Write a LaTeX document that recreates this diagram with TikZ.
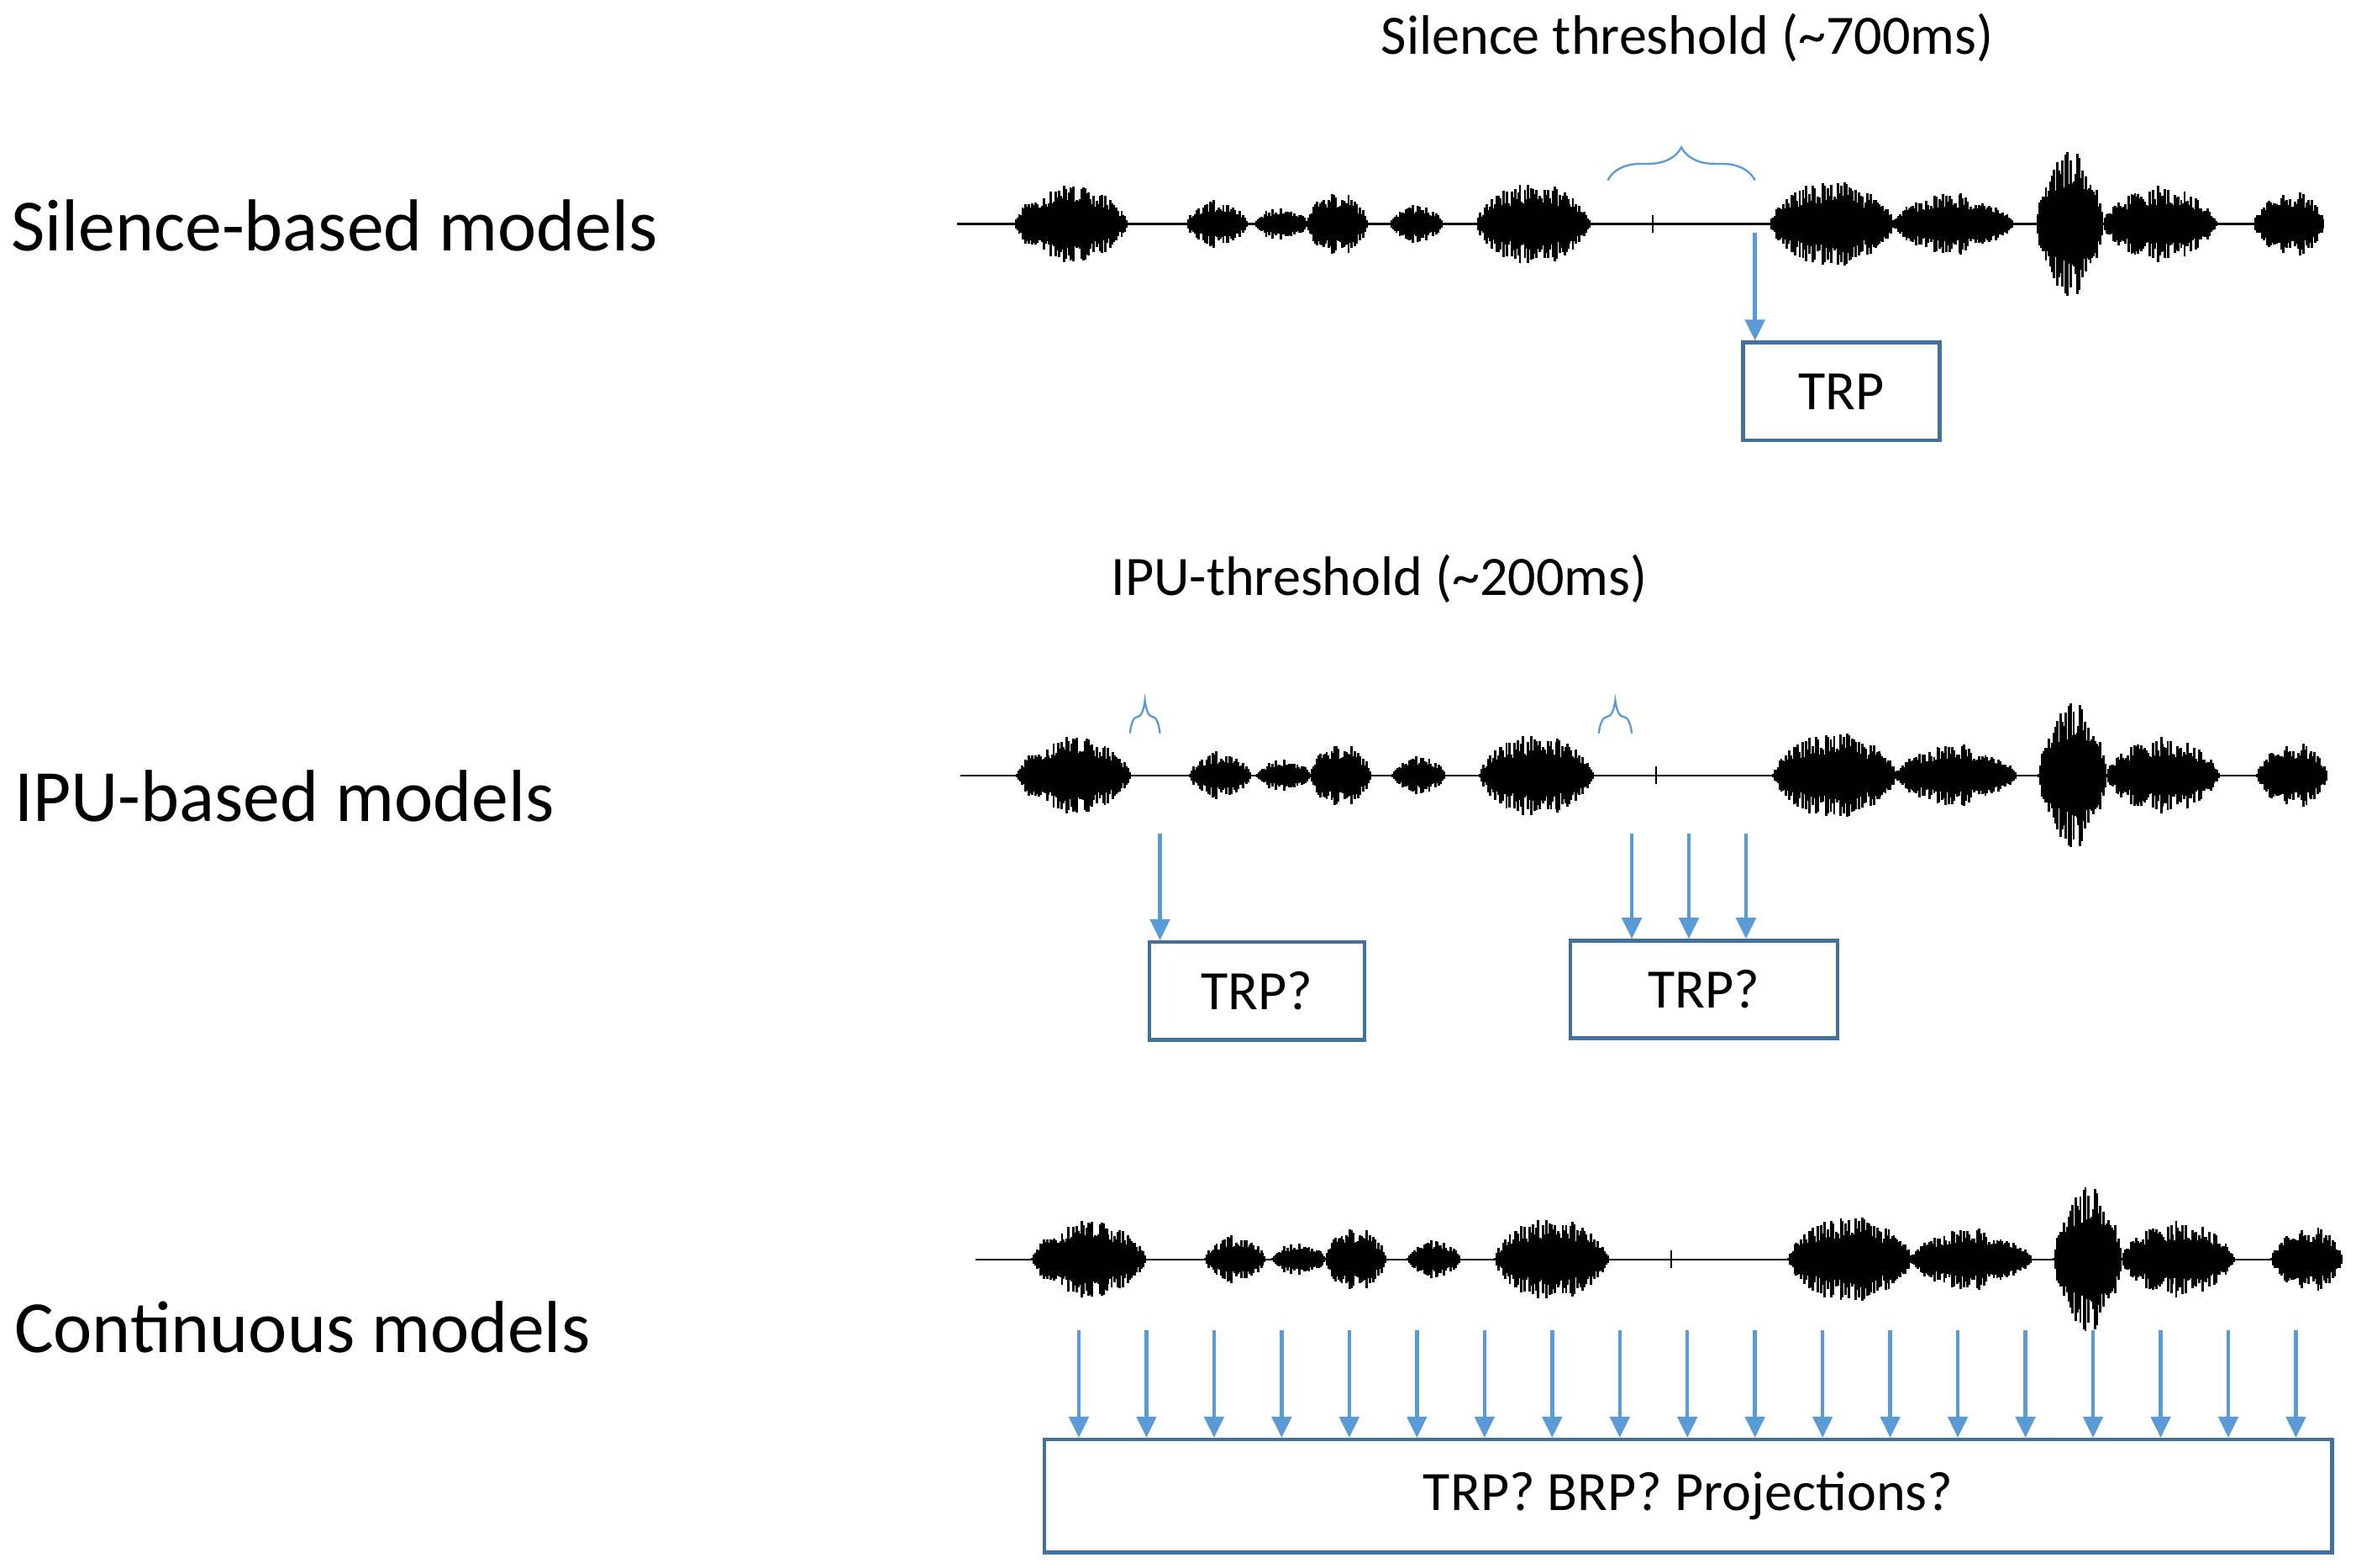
\documentclass[tikz,border=0pt]{standalone}
\usepackage{fontspec}
\setmainfont{Carlito}
\usetikzlibrary{decorations.pathreplacing,arrows.meta}
\definecolor{ablue}{HTML}{5B9BD5}
\definecolor{bblue}{HTML}{41719C}
\tikzset{
 lab/.style={anchor=west,font=\fontsize{49}{54}\selectfont},
 thr/.style={font=\fontsize{37}{42}\selectfont},
 box/.style={draw=bblue,line width=2.5pt,font=\fontsize{37}{42}\selectfont,inner sep=0pt},
 arr/.style={draw=ablue,line width=2.5pt,-{Triangle[length=14pt,width=13pt]}},
 br/.style={draw=ablue,line width=1.3pt,decorate,decoration={brace,amplitude=22pt}}
}
\newcommand{\wavedraw}[2]{%
 \pgfmathsetseed{7}
 \draw[line width=1.2pt] ({#1+637},#2)--({#1+1547},#2);
 \draw[line width=1.2pt] ({#1+1100},{#2-6})--({#1+1100},{#2+6});
 \foreach \a/\b/\A in {675/750/25,790/830/15,835/870/10,870/910/22,925/960/12,983/1058/27,1178/1260/28,1260/1340/20,1355/1400/48,1400/1475/25,1500/1547/22}{
  \pgfmathsetmacro\nn{int((\b-\a)/1.1)}
  \foreach \k in {0,...,\nn}{
   \pgfmathsetmacro\xx{\a+1.1*\k}
   \pgfmathsetmacro\h{\A*(sin(180*(\xx-\a)/(\b-\a)))^0.6*(0.45+0.55*rnd)+1}
   \pgfmathsetmacro\px{#1+\xx}
   \pgfmathsetmacro\ya{#2-\h}
   \pgfmathsetmacro\yb{#2+\h}
   \draw[line width=1.6pt] (\px,\ya)--(\px,\yb);
  }}
}
\begin{document}
\begin{tikzpicture}[x=1pt,y=-1pt]
\useasboundingbox (0,0) rectangle (1568,1043);
\node[lab] (l1) at (4,150) {Silence-based models};
\node[lab] (l2) at (6,530) {IPU-based models};
\node[lab] (l3) at (6,883) {Continuous models};
\wavedraw{0}{149}
\wavedraw{2}{516}
\wavedraw{12}{838}
% row 1
\node[thr] (t1) at (1123,25) {Silence threshold (\textasciitilde700ms)};
\draw[br] (1070,120) -- (1168,120);
\node[box,minimum width=131pt,minimum height=65pt] (trp1) at (1225.5,260.5) {TRP};
\coordinate (s1) at (1168,155);
\draw[arr] (s1) -- (s1|-trp1.north);
% row 2
\node[thr] (t2) at (918,385) {IPU-threshold (\textasciitilde200ms)};
\draw[br] (752,488) -- (772,488);
\draw[br] (1064,488) -- (1086,488);
\node[box,minimum width=143pt,minimum height=65pt] (trp2) at (836.5,659.5) {TRP?};
\node[box,minimum width=178pt,minimum height=65pt] (trp3) at (1134,658.5) {TRP?};
\foreach \x/\n in {772/a}{\coordinate (\n) at (\x,555); \draw[arr] (\n) -- (\n|-trp2.north);}
\foreach \x/\n in {1086/b,1124/c,1162/d}{\coordinate (\n) at (\x,555); \draw[arr] (\n) -- (\n|-trp3.north);}
% row 3
\node[box,minimum width=857pt,minimum height=75pt] (trp4) at (1123.5,995.5) {TRP? BRP? Projections?};
\foreach \i in {0,...,18}{\coordinate (c\i) at (718+45*\i,885); \draw[arr] (c\i) -- (c\i|-trp4.north);}
\end{tikzpicture}
\end{document}
